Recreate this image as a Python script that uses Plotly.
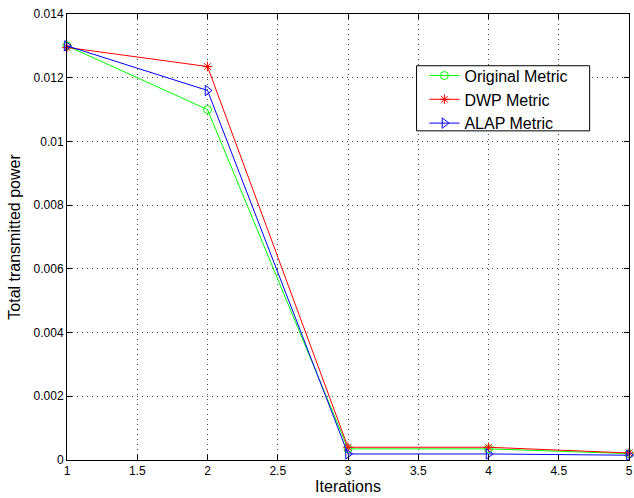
import plotly.graph_objects as go

iterations = [1, 2, 3, 4, 5]
original_metric = [0.0130, 0.0110, 0.00035, 0.00035, 0.00020]
dwp_metric = [0.01295, 0.01235, 0.00040, 0.00040, 0.00022]
alap_metric = [0.0130, 0.0116, 0.00019, 0.00019, 0.00015]

x_ticks = [1, 1.5, 2, 2.5, 3, 3.5, 4, 4.5, 5]
x_ticktext = ["1", "1.5", "2", "2.5", "3", "3.5", "4", "4.5", "5"]
y_ticks = [0, 0.002, 0.004, 0.006, 0.008, 0.01, 0.012, 0.014]
y_ticktext = ["0", "0.002", "0.004", "0.006", "0.008", "0.01", "0.012", "0.014"]

FONT = "Liberation Sans, Arial, Helvetica, sans-serif"

fig = go.Figure()
fig.add_trace(go.Scatter(x=iterations, y=original_metric, name="Original Metric",
                         mode="lines+markers", cliponaxis=False,
                         line=dict(color="#00ff00", width=1),
                         marker=dict(symbol="circle-open", size=8, color="#00ff00", line=dict(width=1))))
fig.add_trace(go.Scatter(x=iterations, y=dwp_metric, name="DWP Metric",
                         mode="lines+markers", cliponaxis=False,
                         line=dict(color="#ff0000", width=1),
                         marker=dict(symbol="asterisk-open", size=8, color="#ff0000", line=dict(width=1))))
fig.add_trace(go.Scatter(x=iterations, y=alap_metric, name="ALAP Metric",
                         mode="lines+markers", cliponaxis=False,
                         line=dict(color="#0000ff", width=1),
                         marker=dict(symbol="triangle-right-open", size=9, color="#0000ff", line=dict(width=1))))

axis_common = dict(showline=True, linecolor="black", linewidth=1, mirror="ticks",
                   ticks="inside", ticklen=5, tickcolor="black",
                   showgrid=True, gridcolor="#444444", griddash="1px,4px", gridwidth=1,
                   zeroline=False, ticklabeloverflow="allow",
                   tickfont=dict(family=FONT, size=12, color="black"))

fig.update_xaxes(range=[1, 5], tickvals=x_ticks, ticktext=x_ticktext,
                 title=dict(text="Iterations", font=dict(family=FONT, size=16, color="black"), standoff=2),
                 **axis_common)
fig.update_yaxes(range=[0, 0.014], tickvals=y_ticks, ticktext=y_ticktext,
                 title=dict(text="Total transmitted power", font=dict(family=FONT, size=16, color="black"), standoff=8),
                 **axis_common)

# legend frame (MATLAB style box)
fig.add_shape(type="rect", xref="paper", yref="paper",
              x0=0.622, x1=0.930, y0=0.738, y1=0.884,
              line=dict(color="black", width=1), fillcolor="white", layer="above")

fig.update_layout(width=634, height=498, margin=dict(l=67, r=1, t=14, b=38),
                  paper_bgcolor="white", plot_bgcolor="white",
                  font=dict(family=FONT, color="black"),
                  legend=dict(x=0.636, y=0.900, xanchor="left", yanchor="top",
                              bgcolor="rgba(0,0,0,0)", borderwidth=0,
                              font=dict(family=FONT, size=16, color="black"),
                              tracegroupgap=0, itemwidth=30))

fig.write_html("out.html", config={"displayModeBar": False},
               post_script="document.body.style.margin='0';"
                           "document.documentElement.style.overflow='hidden';")
